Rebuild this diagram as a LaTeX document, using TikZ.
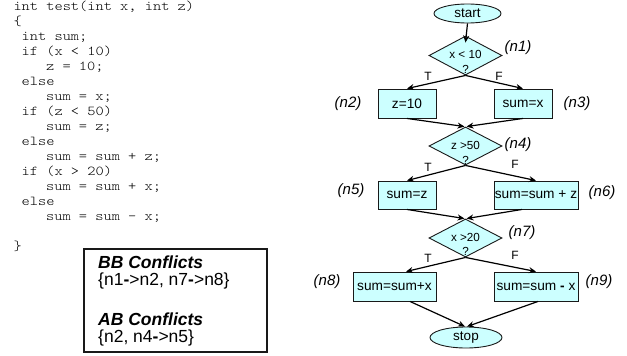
\documentclass[tikz,border=0pt]{standalone}
\usepackage{fontspec}
\setmainfont{Liberation Sans}
\newfontfamily\codefont{lmmonolt10-regular.otf}[FakeStretch=1.15]
\usetikzlibrary{shapes.geometric,arrows.meta,calc}
\definecolor{cfill}{RGB}{204,255,255}
\definecolor{cline}{RGB}{25,25,25}
\begin{document}
\begin{tikzpicture}[x=1pt,y=-1pt,
  codeline/.style={anchor=base west,inner sep=0,font=\codefont\fontsize{13.6}{15}\selectfont},
  box/.style={draw=cline,fill=cfill,line width=0.9pt,inner sep=0,minimum width=#1,minimum height=29pt,font=\fontsize{13.7}{16}\selectfont},
  box/.default=58pt,
  term/.style={ellipse,draw=cline,fill=cfill,line width=0.9pt,inner sep=0,font=\fontsize{13.5}{16}\selectfont},
  dia/.style={diamond,draw=cline,fill=cfill,line width=0.9pt,inner sep=0,minimum width=73pt,minimum height=39pt},
  diatext/.style={inner sep=0,align=center,font=\fontsize{11.7}{14.5}\selectfont},
  nlab/.style={inner sep=0,font=\itshape\fontsize{15}{18}\selectfont},
  tf/.style={inner sep=0,font=\fontsize{12}{14}\selectfont},
  arr/.style={draw=black,line width=1.2pt,-{Stealth[length=7pt,width=6pt]}},
  conf/.style={anchor=base west,inner sep=0,font=\fontsize{17.5}{20}\selectfont},
  confh/.style={conf,font=\bfseries\itshape\fontsize{17.5}{20}\selectfont}
]
\useasboundingbox (0,0) rectangle (627,356);

% code listing
\node[codeline] (c0) at (13.3,10.7) {int test(int x, int z)};
\node[codeline] (c1) at (13.3,25.7) {\{};
\node[codeline] (c2) at (21.5,40.7) {int sum;};
\node[codeline] (c3) at (21.5,55.7) {if (x < 10)};
\node[codeline] (c4) at (45.9,70.7) {z = 10;};
\node[codeline] (c5) at (21.5,85.7) {else};
\node[codeline] (c6) at (45.9,100.7) {sum = x;};
\node[codeline] (c7) at (21.5,115.7) {if (z < 50)};
\node[codeline] (c8) at (45.9,130.7) {sum = z;};
\node[codeline] (c9) at (21.5,145.7) {else};
\node[codeline] (c10) at (45.9,160.7) {sum = sum + z;};
\node[codeline] (c11) at (21.5,175.7) {if (x > 20)};
\node[codeline] (c12) at (45.9,190.7) {sum = sum + x;};
\node[codeline] (c13) at (21.5,205.7) {else};
\node[codeline] (c14) at (45.9,220.7) {sum = sum – x;};
\node[codeline] (c16) at (13.3,250.7) {\}};

% conflicts box
\node[draw=cline,line width=1.5pt,minimum width=183pt,minimum height=103pt,inner sep=0,anchor=north west] (cbox) at (83,248) {};
\node[confh] (bbh) at (98,268) {BB Conflicts};
\node[conf] (bbt) at (98,285) {\{n1\textbf{-}>n2, n7\textbf{-}>n8\}};
\node[confh] (abh) at (98,325) {AB Conflicts};
\node[conf] (abt) at (98,342) {\{n2, n4\textbf{-}>n5\}};

% flowchart nodes
\node[term,minimum width=67pt,minimum height=19pt] (start) at (467.5,13.5) {start};
\node[dia] (n1) at (465.5,55.5) {};
\node[diatext] (n1t) at (465.5,61.75) {x < 10\\?};
\node[box] (n2) at (407,103.5) {z=10};
\node[box] (n3) at (523,103.5) {sum=x};
\node[dia,minimum height=38pt] (n4) at (465.5,146) {};
\node[diatext] (n4t) at (465.5,153) {z >50\\?};
\node[box,minimum height=28pt] (n5) at (407,195) {sum=z};
\node[box=84pt,minimum height=28pt] (n6) at (536,195) {sum=sum + z};
\node[dia,minimum height=38pt] (n7) at (465.5,238) {};
\node[diatext] (n7t) at (465.5,244.5) {x >20\\?};
\node[box=83pt] (n8) at (394.5,286.5) {sum=sum+x};
\node[box=84pt] (n9) at (536,286.5) {sum=sum \textbf{-} x};
\node[term,minimum width=72pt,minimum height=21pt] (stop) at (466,337.5) {stop};

% node labels
\node[nlab] (l1) at (518,48) {(n1)};
\node[nlab] (l2) at (348,104) {(n2)};
\node[nlab] (l3) at (577,104) {(n3)};
\node[nlab] (l4) at (518,145) {(n4)};
\node[nlab] (l5) at (351,191) {(n5)};
\node[nlab] (l6) at (602,193) {(n6)};
\node[nlab] (l7) at (522,233) {(n7)};
\node[nlab] (l8) at (327,282) {(n8)};
\node[nlab] (l9) at (599,282) {(n9)};

% T/F labels
\node[tf] (t1) at (428,76) {T};
\node[tf] (f1) at (499,76) {F};
\node[tf] (t4) at (428,167) {T};
\node[tf] (f4) at (515,164) {F};
\node[tf] (t7) at (428,258) {T};
\node[tf] (f7) at (515,255) {F};

% connectors
\draw[arr] (start.south) -- ([yshift=-7pt]n1.north);
\draw[arr] (n1.south) -- (n2.north);
\draw[arr] (n1.south) -- (n3.north);
\draw[arr] (n2.south) -- ([xshift=-1pt]n4.north);
\draw[arr] (n3.south) -- ([xshift=1pt]n4.north);
\draw[arr] (n4.south) -- (n5.north);
\draw[arr] (n4.south) -- (n6.north);
\draw[arr] (n5.south) -- ([xshift=-1pt]n7.north);
\draw[arr] ([xshift=-14pt]n6.south) -- ([xshift=1pt]n7.north);
\draw[arr] (n7.south) -- ([xshift=11.5pt]n8.north);
\draw[arr] (n7.south) -- (n9.north);
\draw[arr] ([xshift=15.5pt]n8.south) -- ([xshift=-1pt]stop.north);
\draw[arr] ([xshift=2pt]n9.south) -- ([xshift=1pt]stop.north);
\end{tikzpicture}
\end{document}
